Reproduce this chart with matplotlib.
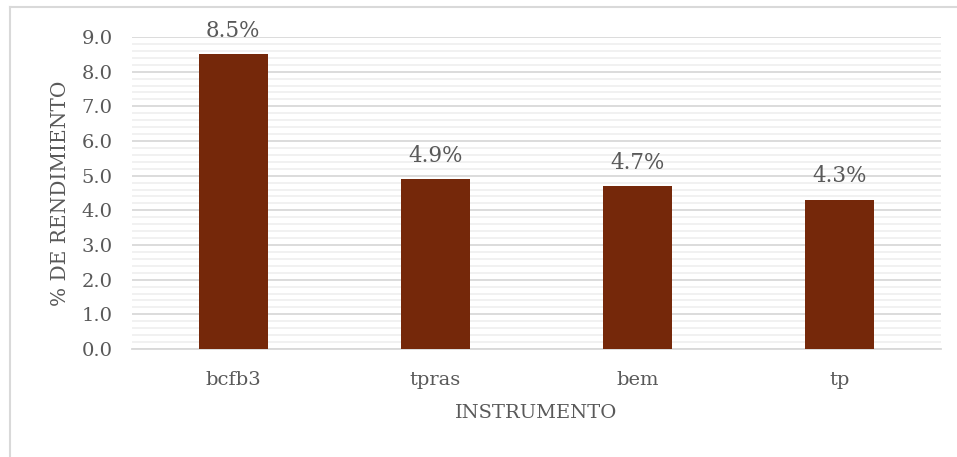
import matplotlib.pyplot as plt
from matplotlib.lines import Line2D
import numpy as np

instrumentos = ["bcfb3", "tpras", "bem", "tp"]
rendimiento = [8.5, 4.9, 4.7, 4.3]
yticks = [0.0, 1.0, 2.0, 3.0, 4.0, 5.0, 6.0, 7.0, 8.0, 9.0]

txt = "#595959"
plt.rcParams['font.family'] = ['DejaVu Serif']

fig = plt.figure(figsize=(9.57, 4.57), dpi=100)
W, H = 957, 457
ax = fig.add_axes([132 / W, 1 - 349 / H, (941 - 132) / W, (349 - 37) / H])

x = np.arange(len(instrumentos))
ax.bar(x, rendimiento, width=0.34, color="#75280a", zorder=3)

ax.set_xlim(-0.5, len(instrumentos) - 0.5)
ax.set_ylim(0, 9)
ax.set_yticks(yticks)
ax.set_yticklabels([f"{v:.1f}" for v in yticks])
ax.set_yticks(np.arange(0, 9.01, 0.2), minor=True)
ax.set_xticks(x)
ax.set_xticklabels(instrumentos)

ax.grid(axis="y", which="major", color="#d9d9d9", lw=1.3, zorder=1)
ax.grid(axis="y", which="minor", color="#f0f0f0", lw=1.3, zorder=0)
for s in ["top", "right", "left"]:
    ax.spines[s].set_visible(False)
ax.spines["bottom"].set_color("#d9d9d9")
ax.spines["bottom"].set_linewidth(1.3)
ax.tick_params(axis="both", which="both", length=0, colors=txt, labelsize=14)
ax.tick_params(axis="y", pad=14)
ax.tick_params(axis="x", pad=16)

for xi, v in zip(x, rendimiento):
    ax.annotate(f"{v}%", (xi, v), xytext=(0, 9), textcoords="offset points",
                ha="center", va="bottom", color=txt, fontsize=15.5)

ax.set_xlabel("INSTRUMENTO", color=txt, fontsize=14, labelpad=11)
ax.set_ylabel("% DE RENDIMIENTO", color=txt, fontsize=14.5, labelpad=8)

# chart frame (top and left edges)
fig.add_artist(Line2D([10 / W, 1.0], [1 - 7 / H, 1 - 7 / H], color="#d9d9d9", lw=1.5))
fig.add_artist(Line2D([10 / W, 10 / W], [0.0, 1 - 7 / H], color="#d9d9d9", lw=1.5))

fig.savefig("out.png", dpi=100)
